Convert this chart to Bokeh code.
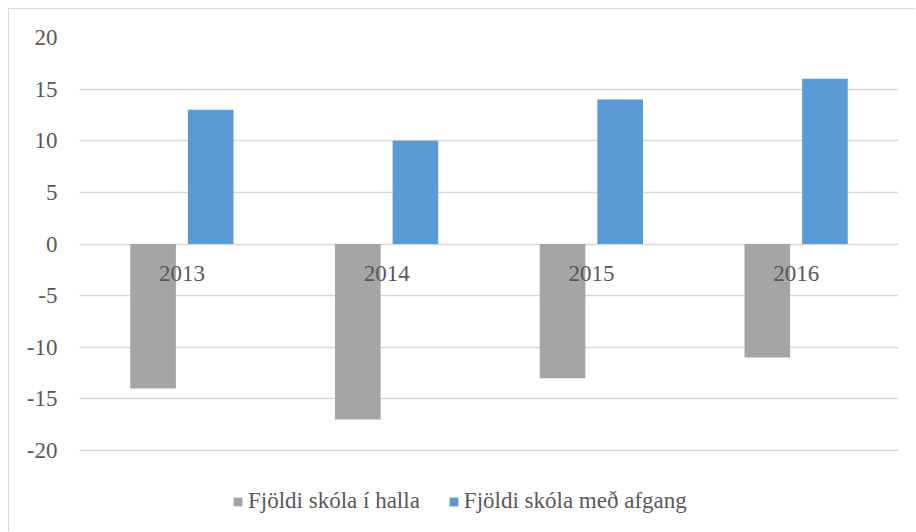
from bokeh.plotting import figure
from bokeh.models import ColumnDataSource, FactorRange, FixedTicker, Legend, LegendItem, PrintfTickFormatter, Range1d
from bokeh.transform import dodge
from bokeh.core.properties import value
from bokeh.embed import file_html
from bokeh.resources import INLINE

years = ["2013", "2014", "2015", "2016"]
halli = [-14, -17, -13, -11]          # Fjöldi skóla í halla
afgangur = [13, 10, 14, 16]           # Fjöldi skóla með afgang
y_ticks = [-20, -15, -10, -5, 0, 5, 10, 15, 20]
series_names = ["Fjöldi skóla í halla", "Fjöldi skóla með afgang"]
series_colors = ["#a5a5a5", "#5b9bd5"]

FONT = "Liberation Serif"
TXT = "#595959"
FS = "23px"

src = ColumnDataSource(dict(year=years, halli=halli, afgangur=afgangur,
                            zero=[0] * len(years)))

# frame extends below the lowest gridline so the legend can sit inside it
p = figure(width=907, height=523, output_backend="svg", toolbar_location=None,
           x_range=FactorRange(factors=years, range_padding=0, factor_padding=0),
           y_range=Range1d(y_ticks[0] - 7.94, y_ticks[-1]), x_axis_location=None,
           min_border_left=70, min_border_right=18, min_border_top=28,
           min_border_bottom=0)
p.styles = {"margin-left": "8px", "margin-top": "8px",
            "border-left": "1px solid #d9d9d9", "border-top": "1px solid #d9d9d9"}
p.outline_line_color = None
p.background_fill_color = "white"
p.border_fill_color = "white"

p.xgrid.grid_line_color = None
p.ygrid.grid_line_color = "#d9d9d9"
p.ygrid.grid_line_width = 1.5
p.ygrid.ticker = FixedTicker(ticks=y_ticks)

ax = p.yaxis[0]
ax.ticker = FixedTicker(ticks=y_ticks)
ax.formatter = PrintfTickFormatter(format="%d")
ax.axis_line_color = None
ax.major_tick_line_color = None
ax.minor_tick_line_color = None
ax.major_label_text_font = FONT
ax.major_label_text_font_size = FS
ax.major_label_text_color = TXT
ax.major_label_standoff = 16

r1 = p.vbar(x=dodge("year", -0.1407, range=p.x_range), top="halli", bottom=0,
            width=0.223, source=src, fill_color=series_colors[0], line_color=None)
r2 = p.vbar(x=dodge("year", 0.1407, range=p.x_range), top="afgangur", bottom=0,
            width=0.223, source=src, fill_color=series_colors[1], line_color=None)

p.text(x="year", y="zero", text="year", source=src, text_font=value(FONT),
       text_font_size=FS, text_color=TXT, text_align="center",
       text_baseline="middle", y_offset=29)

legend = Legend(items=[LegendItem(label=series_names[0], renderers=[r1]),
                       LegendItem(label=series_names[1], renderers=[r2])],
                orientation="horizontal", location=(153, 18),
                padding=0, margin=0, spacing=28, label_standoff=5,
                glyph_width=11, glyph_height=11,
                label_text_font=FONT, label_text_font_size=FS,
                label_text_color=TXT, border_line_color=None,
                background_fill_alpha=0)
p.add_layout(legend, "center")

open("out.html", "w").write(file_html(p, INLINE))
